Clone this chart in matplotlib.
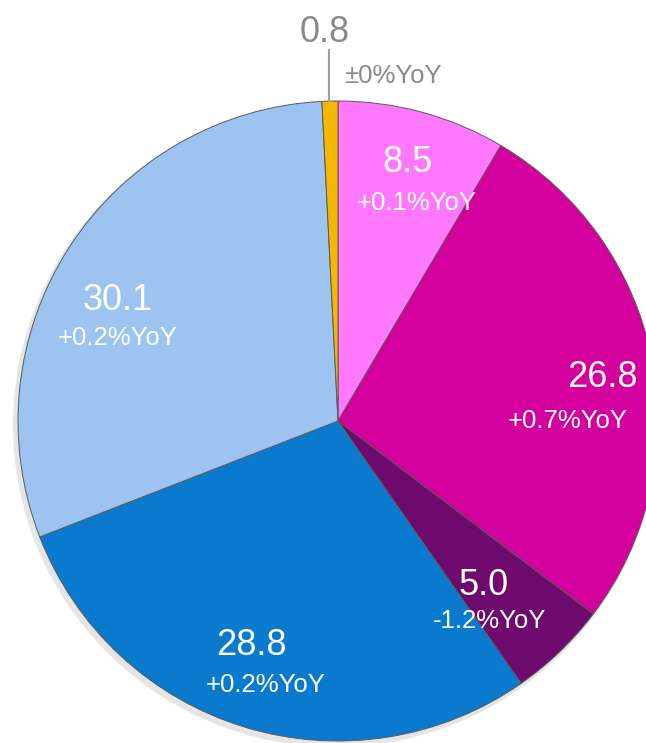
import matplotlib
matplotlib.use("Agg")
import matplotlib.pyplot as plt
from matplotlib.patches import Circle

# share of each segment (%), clockwise from 12 o'clock
values = [8.5, 26.8, 5.0, 28.8, 30.1, 0.8]
value_labels = ["8.5", "26.8", "5.0", "28.8", "30.1", "0.8"]
yoy_labels = ["+0.1%YoY", "+0.7%YoY", "-1.2%YoY", "+0.2%YoY", "+0.2%YoY", "±0%YoY"]
colors = ["#FF78FF", "#D4009E", "#6E0A6E", "#0A7ACF", "#9DC3F1", "#F5B800"]

plt.rcParams['font.family'] = ['Liberation Sans', 'DejaVu Sans']

W, H = 646, 743
fig = plt.figure(figsize=(W / 100, H / 100), dpi=100)
ax = fig.add_axes([0, 0, 1, 1])

cx, cy, r = 338, H - 421, 320

# soft shadow under the pie
ax.add_patch(Circle((cx - 3, cy - 4), r + 2, color='#000000', alpha=0.10, lw=0))

ax.pie(values, colors=colors, startangle=90, counterclock=False,
       center=(cx, cy), radius=r, frame=True,
       wedgeprops=dict(edgecolor='#5a5a5a', linewidth=0.7))
ax.set_xlim(0, W)
ax.set_ylim(0, H)
ax.set_aspect('equal')
ax.axis('off')

# label positions (image pixels, baseline): value line, yoy line
val_pos = [(408, 172), (602, 387), (484, 595), (251, 655), (118, 310), (325, 42)]
yoy_pos = [(417, 210), (568, 428), (490, 628), (266, 692), (118, 345), (393, 83)]

for i in range(len(values)):
    col = 'white' if i < 5 else '#8a8a8a'
    vx, vy = val_pos[i]
    yx, yy = yoy_pos[i]
    ax.text(vx, H - vy, value_labels[i], color=col, fontsize=26,
            ha='center', va='baseline')
    ax.text(yx, H - yy, yoy_labels[i], color=col, fontsize=18.5,
            ha='center', va='baseline')

# leader line for the small slice
ax.plot([329, 329], [H - 50, H - 101], color='#a0a0a0', lw=1.5)

fig.savefig("out.png", dpi=100)
